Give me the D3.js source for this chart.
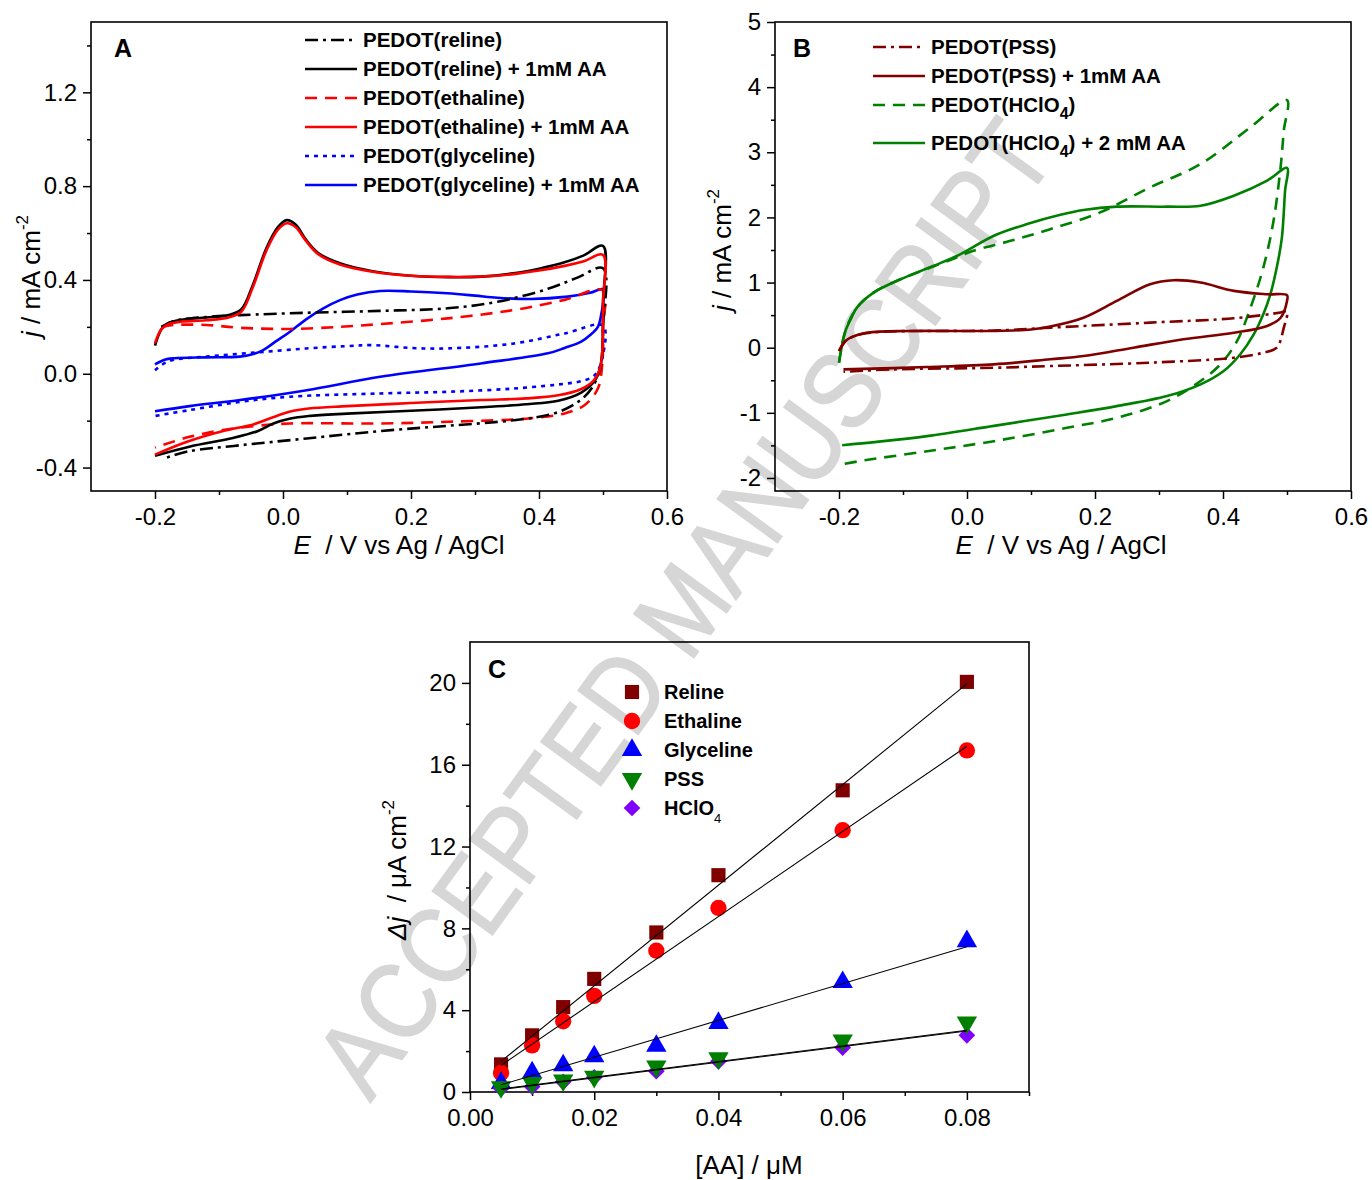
<!DOCTYPE html>
<html>
<head>
<meta charset="utf-8">
<script src="https://d3js.org/d3.v7.min.js"></script>
<style>
  body { margin: 0; background: #fff; }
  svg { font-family: Arial, "Liberation Sans", sans-serif; }
  text { white-space: pre; }
</style>
</head>
<body>
<svg id="fig" width="1372" height="1180"></svg>
<script>
// ---- panel A : CVs in deep eutectic solvents (E / V, j / mA cm-2) ----
var relineFwd = [[-0.19,0.2],[-0.17,0.225],[-0.12,0.242],[-0.067,0.25],[0.037,0.26],[0.15,0.268],[0.257,0.279],[0.335,0.307],[0.414,0.362],[0.46,0.41],[0.5,0.45]];
var relineRev = [[0.5,0.45],[0.5,0.2],[0.497,0.037],[0.482,-0.063],[0.461,-0.12],[0.424,-0.169],[0.361,-0.198],[0.257,-0.222],[0.15,-0.245],[0.037,-0.276],[-0.067,-0.305],[-0.146,-0.33],[-0.185,-0.36]];
var relineAAFwd = [[-0.2,0.12],[-0.19,0.19],[-0.18,0.215],[-0.16,0.23],[-0.12,0.24],[-0.085,0.25],[-0.065,0.275],[-0.047,0.38],[-0.026,0.535],[-0.008,0.625],[0.006,0.655],[0.02,0.635],[0.035,0.575],[0.055,0.515],[0.09,0.47],[0.14,0.437],[0.2,0.418],[0.26,0.412],[0.31,0.414],[0.36,0.428],[0.4,0.448],[0.44,0.475],[0.47,0.505],[0.5,0.545]];
var relineAARev = [[0.5,0.545],[0.5,0.3],[0.499,0.1],[0.495,0.02],[0.487,-0.03],[0.466,-0.08],[0.43,-0.115],[0.38,-0.13],[0.31,-0.143],[0.2,-0.158],[0.1,-0.17],[0.04,-0.18],[0.01,-0.192],[-0.015,-0.212],[-0.04,-0.245],[-0.08,-0.275],[-0.145,-0.31],[-0.2,-0.35]];
var ethalineFwd = [[-0.19,0.2],[-0.17,0.208],[-0.12,0.208],[-0.067,0.196],[0.011,0.191],[0.09,0.2],[0.152,0.212],[0.257,0.236],[0.361,0.272],[0.44,0.315],[0.5,0.355]];
var ethalineRev = [[0.5,0.355],[0.5,0.2],[0.499,0.05],[0.492,-0.063],[0.471,-0.134],[0.44,-0.169],[0.387,-0.19],[0.257,-0.205],[0.152,-0.212],[0.011,-0.212],[-0.041,-0.222],[-0.094,-0.24],[-0.146,-0.269],[-0.2,-0.315]];
var ethalineAAFwd = [[-0.2,0.13],[-0.19,0.19],[-0.18,0.21],[-0.16,0.222],[-0.12,0.228],[-0.085,0.24],[-0.065,0.265],[-0.047,0.37],[-0.026,0.525],[-0.008,0.615],[0.006,0.642],[0.02,0.625],[0.035,0.57],[0.055,0.51],[0.09,0.465],[0.14,0.435],[0.2,0.418],[0.26,0.413],[0.31,0.415],[0.36,0.425],[0.4,0.44],[0.44,0.46],[0.47,0.48],[0.5,0.507]];
var ethalineAARev = [[0.5,0.507],[0.5,0.3],[0.499,0.1],[0.495,0.02],[0.485,-0.03],[0.466,-0.065],[0.43,-0.092],[0.38,-0.105],[0.31,-0.112],[0.2,-0.125],[0.1,-0.138],[0.04,-0.148],[0.01,-0.162],[-0.02,-0.19],[-0.045,-0.215],[-0.095,-0.245],[-0.15,-0.29],[-0.2,-0.345]];
var glycelineFwd = [[-0.2,0.015],[-0.185,0.045],[-0.17,0.06],[-0.12,0.073],[-0.041,0.091],[0.037,0.108],[0.1,0.118],[0.14,0.122],[0.2,0.11],[0.257,0.108],[0.361,0.129],[0.44,0.172],[0.5,0.205]];
var glycelineRev = [[0.5,0.205],[0.5,0.08],[0.487,-0.006],[0.465,-0.032],[0.445,-0.041],[0.361,-0.063],[0.257,-0.077],[0.152,-0.084],[0.011,-0.098],[-0.067,-0.12],[-0.146,-0.155],[-0.2,-0.18]];
var glycelineAAFwd = [[-0.2,0.04],[-0.185,0.06],[-0.17,0.066],[-0.12,0.07],[-0.067,0.073],[-0.045,0.085],[-0.031,0.101],[-0.01,0.14],[0.011,0.179],[0.035,0.23],[0.063,0.279],[0.09,0.315],[0.116,0.338],[0.152,0.353],[0.2,0.351],[0.257,0.343],[0.3,0.333],[0.335,0.324],[0.387,0.319],[0.445,0.329],[0.48,0.345],[0.5,0.36]];
var glycelineAARev = [[0.5,0.36],[0.497,0.25],[0.492,0.2],[0.48,0.165],[0.466,0.137],[0.44,0.11],[0.414,0.087],[0.309,0.044],[0.152,-0.013],[0.037,-0.07],[-0.067,-0.112],[-0.146,-0.138],[-0.2,-0.16]];

// ---- panel B : CVs in aqueous media ----
var pssFwd = [[-0.2,-0.05],[-0.19,0.1],[-0.17,0.2],[-0.13,0.245],[-0.05,0.257],[0.042,0.262],[0.13,0.308],[0.286,0.385],[0.417,0.452],[0.49,0.54],[0.5,0.56]];
var pssRev = [[0.5,0.56],[0.495,0.308],[0.484,0.0],[0.463,-0.077],[0.417,-0.154],[0.286,-0.23],[0.13,-0.282],[0.042,-0.308],[-0.115,-0.333],[-0.193,-0.37]];
var pssAAFwd = [[-0.2,-0.05],[-0.19,0.1],[-0.182,0.154],[-0.156,0.23],[-0.089,0.257],[0.042,0.257],[0.1,0.28],[0.13,0.325],[0.182,0.46],[0.234,0.718],[0.286,0.975],[0.323,1.036],[0.365,1.0],[0.417,0.872],[0.469,0.82],[0.5,0.806]];
var pssAARev = [[0.5,0.806],[0.5,0.718],[0.49,0.46],[0.469,0.334],[0.417,0.23],[0.338,0.13],[0.26,0.0],[0.182,-0.128],[0.13,-0.178],[0.042,-0.256],[-0.0625,-0.297],[-0.193,-0.333]];
var hclo4Fwd = [[-0.2,-0.23],[-0.19,0.257],[-0.172,0.615],[-0.146,0.846],[-0.104,1.05],[-0.06,1.22],[-0.02,1.37],[0.01,1.487],[0.068,1.64],[0.13,1.82],[0.208,2.077],[0.286,2.46],[0.365,2.82],[0.443,3.385],[0.5,3.8]];
var hclo4Rev = [[0.5,3.8],[0.495,3.33],[0.49,2.77],[0.479,1.95],[0.463,1.23],[0.443,0.615],[0.422,0.103],[0.396,-0.255],[0.365,-0.512],[0.3125,-0.82],[0.234,-1.077],[0.156,-1.23],[0.042,-1.435],[-0.0625,-1.59],[-0.167,-1.74],[-0.2,-1.8]];
var hclo4AAFwd = [[-0.2,-0.23],[-0.195,0.05],[-0.19,0.257],[-0.18,0.47],[-0.172,0.615],[-0.146,0.846],[-0.104,1.05],[-0.052,1.257],[-0.01,1.437],[0.042,1.718],[0.094,1.898],[0.146,2.04],[0.182,2.113],[0.234,2.165],[0.3125,2.165],[0.365,2.18],[0.417,2.334],[0.469,2.565],[0.5,2.76]];
var hclo4AARev = [[0.5,2.76],[0.497,2.41],[0.492,1.69],[0.484,1.23],[0.474,0.82],[0.463,0.514],[0.448,0.206],[0.427,-0.1],[0.401,-0.358],[0.365,-0.563],[0.3125,-0.743],[0.234,-0.897],[0.156,-1.025],[0.042,-1.2],[-0.0625,-1.358],[-0.141,-1.446],[-0.195,-1.497]];

// ---- panel C : calibration (AA / uM vs delta j / uA cm-2) ----
var aaConc = [0.005, 0.01, 0.015, 0.02, 0.03, 0.04, 0.06, 0.08];
var relineDj = [1.35, 2.77, 4.15, 5.53, 7.8, 10.6, 14.75, 20.05];
var ethalineDj = [0.93, 2.28, 3.46, 4.7, 6.91, 9.0, 12.8, 16.7];
var glycelineDj = [0.44, 0.95, 1.3, 1.74, 2.25, 3.37, 5.37, 7.37];
var pssDj = [0.24, 0.44, 0.57, 0.75, 1.25, 1.65, 2.52, 3.4];
var hclo4Dj = [0.17, 0.26, 0.5, 0.72, 1.02, 1.5, 2.17, 2.77];
var fitEnds = [0.005, 0.08];
var relineFit = [1.5, 19.95];
var ethalineFit = [1.3, 16.9];
var glycelineFit = [0.35, 7.1];
var pssFit = [0.15, 3.02];
var hclo4Fit = [0.12, 2.98];

var svg = d3.select("#fig");

// watermark sits behind everything
svg.append("text")
  .attr("transform", "translate(714,630) rotate(-54)")
  .attr("text-anchor", "middle")
  .attr("textLength", 1170)
  .attr("lengthAdjust", "spacingAndGlyphs")
  .style("font-size", "108px")
  .style("fill", "#d6d6d6")
  .style("stroke", "#d6d6d6")
  .style("stroke-width", 1.5)
  .text("ACCEPTED MANUSCRIPT");

// origin-style labels use a plain hyphen for negatives
var hyphen = function(f) {
  return function(d) { return f(d).replace("\u2212", "-"); };
}

var drawFrame = function(x, y, opt) {
  var g = svg.append("g");
  var x0 = x.range()[0], x1 = x.range()[1], y0 = y.range()[0], y1 = y.range()[1];

  g.append("g").attr("transform", "translate(" + x0 + ",0)")
    .call(d3.axisLeft(y).tickValues(opt.yMinor).tickSize(4).tickSizeOuter(0).tickFormat(""));
  g.append("g").attr("transform", "translate(" + x0 + ",0)")
    .call(d3.axisLeft(y).tickValues(opt.yMajor).tickSize(8).tickSizeOuter(0).tickPadding(6).tickFormat(hyphen(opt.yFmt)));
  g.append("g").attr("transform", "translate(0," + y0 + ")")
    .call(d3.axisBottom(x).tickValues(opt.xMinor).tickSize(4).tickSizeOuter(0).tickFormat(""));
  g.append("g").attr("transform", "translate(0," + y0 + ")")
    .call(d3.axisBottom(x).tickValues(opt.xMajor).tickSize(8).tickSizeOuter(0).tickPadding(9).tickFormat(hyphen(opt.xFmt)));

  g.selectAll(".domain").remove();
  g.selectAll(".tick line").attr("stroke", "#000").attr("stroke-width", 1.5);
  g.selectAll(".tick text").style("font-size", "24px").attr("fill", "#000");

  g.append("rect")
    .attr("x", x0).attr("y", y1)
    .attr("width", x1 - x0).attr("height", y0 - y1)
    .attr("fill", "none").attr("stroke", "#000").attr("stroke-width", 1.6);
  return g;
}

var cvLine = function(x, y) {
  return d3.line()
    .x(function(d) { return x(d[0]); })
    .y(function(d) { return y(d[1]); })
    .curve(d3.curveCatmullRom.alpha(0.5));
}

var drawLoop = function(g, line, fwd, rev, color, dash) {
  g.append("path")
    .datum(fwd.concat(rev.slice(1)))
    .attr("d", line)
    .attr("fill", "none")
    .attr("stroke", color)
    .attr("stroke-width", 2.6)
    .attr("stroke-dasharray", dash)
    .attr("stroke-linejoin", "round");
}

var addLegendRow = function(g, x0, x1, ty, color, dash, parts) {
  g.append("line")
    .attr("x1", x0).attr("x2", x1).attr("y1", ty).attr("y2", ty)
    .attr("stroke", color).attr("stroke-width", 2.6)
    .attr("stroke-dasharray", dash);
  var t = g.append("text").attr("x", x1 + 6).attr("y", ty + 7)
    .style("font-size", "20.5px").style("font-weight", "bold");
  var shift = 0;
  parts.forEach(function(p) {
    if (p.sub) {
      t.append("tspan").attr("dy", 7).style("font-size", "16px").text(p.sub);
      shift = -7;
    } else {
      t.append("tspan").attr("dy", shift).text(p.t);
      shift = 0;
    }
  });
}

var axisTitleX = function(cx, cy, italic, rest) {
  var t = svg.append("text").attr("x", cx).attr("y", cy)
    .attr("text-anchor", "middle").style("font-size", "26px");
  if (italic) t.append("tspan").style("font-style", "italic").text(italic);
  t.append("tspan").text(rest);
}

var axisTitleY = function(bx, cy, italic, rest, sup) {
  var t = svg.append("text")
    .attr("transform", "translate(" + bx + "," + cy + ") rotate(-90)")
    .attr("text-anchor", "middle").style("font-size", "26px");
  t.append("tspan").style("font-style", "italic").text(italic);
  t.append("tspan").text(rest);
  t.append("tspan").attr("dy", -12).style("font-size", "17px").text(sup);
}

var panelLetter = function(x, y, s) {
  svg.append("text").attr("x", x).attr("y", y)
    .style("font-size", "25px").style("font-weight", "bold").text(s);
}

var renderPanelA = function() {
  var x = d3.scaleLinear().domain([-0.3, 0.6]).range([91, 667]);
  var y = d3.scaleLinear().domain([-0.5, 1.5]).range([491, 22]);
  var g = drawFrame(x, y, {
    yMajor: [-0.4, 0, 0.4, 0.8, 1.2], yMinor: [-0.2, 0.2, 0.6, 1.0, 1.4],
    xMajor: [-0.2, 0, 0.2, 0.4, 0.6], xMinor: [-0.1, 0.1, 0.3, 0.5],
    yFmt: d3.format(".1f"), xFmt: d3.format(".1f")
  });
  var line = cvLine(x, y);
  var dashDot = "13,5,3,5", dashed = "12,8", dotted = "4,5";
  drawLoop(g, line, glycelineFwd, glycelineRev, "#0000ff", dotted);
  drawLoop(g, line, glycelineAAFwd, glycelineAARev, "#0000ff", null);
  drawLoop(g, line, ethalineFwd, ethalineRev, "#ff0000", dashed);
  drawLoop(g, line, relineFwd, relineRev, "#000000", dashDot);
  drawLoop(g, line, relineAAFwd, relineAARev, "#000000", null);
  drawLoop(g, line, ethalineAAFwd, ethalineAARev, "#ff0000", null);

  var lg = svg.append("g");
  addLegendRow(lg, 305, 357, 40, "#000000", dashDot, [{t: "PEDOT(reline)"}]);
  addLegendRow(lg, 305, 357, 69, "#000000", null, [{t: "PEDOT(reline) + 1mM AA"}]);
  addLegendRow(lg, 305, 357, 98, "#ff0000", dashed, [{t: "PEDOT(ethaline)"}]);
  addLegendRow(lg, 305, 357, 127, "#ff0000", null, [{t: "PEDOT(ethaline) + 1mM AA"}]);
  addLegendRow(lg, 305, 357, 156, "#0000ff", dotted, [{t: "PEDOT(glyceline)"}]);
  addLegendRow(lg, 305, 357, 185, "#0000ff", null, [{t: "PEDOT(glyceline) + 1mM AA"}]);

  panelLetter(114, 57, "A");
  axisTitleX(399, 554, "E", "  / V vs Ag / AgCl");
  axisTitleY(40, 276, "j", " / mA cm", "-2");
}

var renderPanelB = function() {
  var x = d3.scaleLinear().domain([-0.3, 0.6]).range([775, 1351]);
  var y = d3.scaleLinear().domain([-2.2, 5]).range([491, 22]);
  var g = drawFrame(x, y, {
    yMajor: [-2, -1, 0, 1, 2, 3, 4, 5], yMinor: [-1.5, -0.5, 0.5, 1.5, 2.5, 3.5, 4.5],
    xMajor: [-0.2, 0, 0.2, 0.4, 0.6], xMinor: [-0.1, 0.1, 0.3, 0.5],
    yFmt: d3.format("d"), xFmt: d3.format(".1f")
  });
  var line = cvLine(x, y);
  var dashDot = "13,5,3,5", dashed = "12,8";
  drawLoop(g, line, hclo4Fwd, hclo4Rev, "#008000", dashed);
  drawLoop(g, line, hclo4AAFwd, hclo4AARev, "#008000", null);
  drawLoop(g, line, pssFwd, pssRev, "#800000", dashDot);
  drawLoop(g, line, pssAAFwd, pssAARev, "#800000", null);

  var lg = svg.append("g");
  addLegendRow(lg, 873, 925, 47, "#800000", dashDot, [{t: "PEDOT(PSS)"}]);
  addLegendRow(lg, 873, 925, 76, "#800000", null, [{t: "PEDOT(PSS) + 1mM AA"}]);
  addLegendRow(lg, 873, 925, 105, "#008000", dashed, [{t: "PEDOT(HClO"}, {sub: "4"}, {t: ")"}]);
  addLegendRow(lg, 873, 925, 143, "#008000", null, [{t: "PEDOT(HClO"}, {sub: "4"}, {t: ") + 2 mM AA"}]);

  panelLetter(793, 57, "B");
  axisTitleX(1061, 554, "E", "  / V vs Ag / AgCl");
  axisTitleY(731, 250, "j", " / mA cm", "-2");
}

var renderPanelC = function() {
  var x = d3.scaleLinear().domain([0, 0.09]).range([470, 1029]);
  var y = d3.scaleLinear().domain([0, 22]).range([1092, 642]);
  var g = drawFrame(x, y, {
    yMajor: [0, 4, 8, 12, 16, 20], yMinor: [2, 6, 10, 14, 18],
    xMajor: [0, 0.02, 0.04, 0.06, 0.08], xMinor: [0.01, 0.03, 0.05, 0.07, 0.09],
    yFmt: d3.format("d"), xFmt: d3.format(".2f")
  });

  var series = [
    {name: "Reline", vals: relineDj, fit: relineFit, color: "#800000", sym: d3.symbolSquare, size: 200, rot: 0},
    {name: "Ethaline", vals: ethalineDj, fit: ethalineFit, color: "#ff0000", sym: d3.symbolCircle, size: 210, rot: 0},
    {name: "Glyceline", vals: glycelineDj, fit: glycelineFit, color: "#0000ff", sym: d3.symbolTriangle, size: 180, rot: 0},
    {name: "HClO4", vals: hclo4Dj, fit: hclo4Fit, color: "#8000ff", sym: d3.symbolSquare, size: 140, rot: 45},
    {name: "PSS", vals: pssDj, fit: pssFit, color: "#008000", sym: d3.symbolTriangle, size: 180, rot: 180}
  ];

  series.forEach(function(s) {
    g.selectAll(null).data(s.vals).enter().append("path")
      .attr("d", d3.symbol().type(s.sym).size(s.size))
      .attr("transform", function(d, i) {
        return "translate(" + x(aaConc[i]) + "," + y(d) + ") rotate(" + s.rot + ")";
      })
      .attr("fill", s.color);
  });
  series.forEach(function(s) {
    g.append("line")
      .attr("x1", x(fitEnds[0])).attr("y1", y(s.fit[0]))
      .attr("x2", x(fitEnds[1])).attr("y2", y(s.fit[1]))
      .attr("stroke", "#000").attr("stroke-width", 1.1);
  });

  // legend
  var legendOrder = [series[0], series[1], series[2], series[4], series[3]];
  legendOrder.forEach(function(s, i) {
    var ly = 692 + i * 29;
    svg.append("path")
      .attr("d", d3.symbol().type(s.sym).size(s.size))
      .attr("transform", "translate(632," + ly + ") rotate(" + s.rot + ")")
      .attr("fill", s.color);
    var t = svg.append("text").attr("x", 664).attr("y", ly + 7)
      .style("font-size", "20px").style("font-weight", "bold");
    if (s.name === "HClO4") {
      t.append("tspan").text("HClO");
      t.append("tspan").attr("dy", 8).style("font-size", "13px").style("font-weight", "normal").text("4");
    } else {
      t.text(s.name);
    }
  });

  panelLetter(488, 678, "C");
  axisTitleX(749, 1174, null, "[AA] / \u03bcM");
  axisTitleY(406, 870, "\u0394j", "  / \u03bcA cm", "-2");
}

renderPanelA();
renderPanelB();
renderPanelC();
</script>
</body>
</html>
